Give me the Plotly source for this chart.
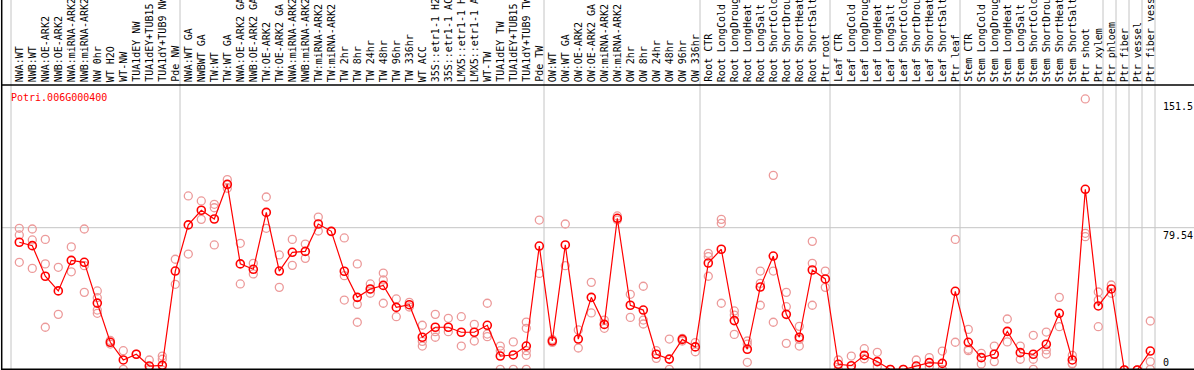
import plotly.graph_objects as go

gene_id = "Potri.006G000400"

categories = [
    "NWA:WT", "NWB:WT", "NWA:OE-ARK2", "NWB:OE-ARK2", "NWA:miRNA-ARK2", "NWB:miRNA-ARK2",
    "NW 0hr", "WT H2O", "WT-NW", "TUA1dEY NW", "TUA1dEY+TUB15 NW", "TUA1dY+TUB9 NW", "Pde NW",
    "NWA:WT GA", "NWBWT GA", "TW:WT", "TW:WT GA", "NWA:OE-ARK2 GA", "NWB:OE-ARK2 GA",
    "TW:OE-ARK2", "TW:OE-ARK2 GA", "NWA:miRNA-ARK2 GA", "NWB:miRNA-ARK2 GA", "TW:miRNA-ARK2",
    "TW:miRNA-ARK2 GA", "TW 2hr", "TW 8hr", "TW 24hr", "TW 48hr", "TW 96hr", "TW 336hr",
    "WT ACC", "35S::etr1-1 H2O", "35S::etr1-1 ACC", "LMX5::etr1-1 H2O", "LMX5::etr1-1 ACC",
    "WT-TW", "TUA1dEY TW", "TUA1dEY+TUB15 TW", "TUA1dY+TUB9 TW", "Pde TW",
    "OW:WT", "OW:WT GA", "OW:OE-ARK2", "OW:OE-ARK2 GA", "OW:miRNA-ARK2", "OW:miRNA-ARK2 GA",
    "OW 2hr", "OW 8hr", "OW 24hr", "OW 48hr", "OW 96hr", "OW 336hr",
    "Root CTR", "Root LongCold", "Root LongDrought", "Root LongHeat", "Root LongSalt",
    "Root ShortCold", "Root ShortDrought", "Root ShortHeat", "Root ShortSalt", "Ptr root",
    "Leaf CTR", "Leaf LongCold", "Leaf LongDrought", "Leaf LongHeat", "Leaf LongSalt",
    "Leaf ShortCold", "Leaf ShortDrought", "Leaf ShortHeat", "Leaf ShortSalt", "Ptr leaf",
    "Stem CTR", "Stem LongCold", "Stem LongDrought", "Stem LongHeat", "Stem LongSalt",
    "Stem ShortCold", "Stem ShortDrought", "Stem ShortHeat", "Stem ShortSalt", "Ptr shoot",
    "Ptr xylem", "Ptr phloem", "Ptr fiber", "Ptr vessel", "Ptr fiber vessel",
]

mean_values = [
    71.4, 69.5, 52.4, 44.2, 61.3, 60.2, 37.4, 15.5, 5.6, 8.8, 2.2, 2.6, 55.3,
    81.1, 89.3, 84.4, 103.8, 59.3, 56.3, 88.1, 55.3, 65.8, 66.3, 81.6, 77.5,
    55.2, 40.6, 45.3, 47.3, 35.0, 36.5, 18.3, 23.9, 23.9, 21.1, 21.1, 25.0,
    7.8, 8.4, 13.4, 69.3,
    16.2, 69.9, 17.3, 40.6, 25.5, 84.8, 36.2, 33.5, 8.8, 6.1, 17.1, 12.9,
    59.8, 67.5, 27.6, 11.6, 46.4, 63.7, 31.1, 18.3, 55.9, 50.9,
    3.2, 2.4, 8.2, 4.7, 0.3, 0.3, 2.2, 4.1, 3.7, 44.0,
    15.5, 6.9, 8.8, 21.6, 9.7, 8.8, 14.4, 31.7, 5.6, 101.0, 35.8,
    45.3, 0.0, 0.0, 10.6,
]

replicate_values = [
    [79.2, 75.5, 60.2], [78.8, 72.7, 56.8], [73.0, 59.3, 23.9], [57.4, 31.1],
    [68.8, 54.9], [78.8, 58.3, 43.4], [44.2, 40.4, 33.5, 31.7], [16.5, 14.5],
    [10.8, 0.4], [8.8], [5.6, 0.2], [7.8, 6.0, 0.0], [61.9, 47.9],
    [97.3, 64.8], [94.5, 84.2], [92.6, 90.7, 69.9], [106.4, 103.5, 101.6],
    [70.8, 48.1], [59.6, 53.7], [96.7, 79.2], [64.3, 46.2], [73.0, 58.5],
    [70.4, 62.4], [85.5, 77.7], [77.5], [73.8, 52.7, 39.1], [59.3, 36.7, 26.7],
    [48.1, 45.0, 42.9], [54.2, 50.3, 37.3], [39.7, 29.8], [37.8, 35.2],
    [25.0, 16.0, 13.4], [31.1, 21.4, 18.3], [28.9, 21.4], [29.8, 13.4],
    [25.5, 16.2], [37.3, 20.1, 18.6], [13.4, 10.8, 0.4], [15.7, 0.4],
    [26.8, 23.3, 10.8, 8.2, 0.4], [83.8, 54.0],
    [17.0, 15.4], [81.6, 58.3], [22.4, 12.3], [49.0, 31.9], [27.9, 23.3],
    [86.1, 83.8], [42.3, 29.4], [46.8, 27.9, 25.7], [10.8, 6.5], [17.3, 0.4],
    [17.7, 16.2], [15.3, 10.2],
    [65.2, 63.4, 52.4], [84.2, 82.0, 37.3], [33.0, 30.7, 19.9], [16.2, 14.5, 4.3],
    [55.3, 48.4, 36.2], [108.8, 55.3, 26.7], [43.4, 35.4, 14.9], [24.4, 17.1, 13.4],
    [71.9, 59.6, 36.2], [55.3, 46.2],
    [5.6, 0.4], [7.8, 0.4], [11.9, 6.3], [9.9, 1.9], [0.4], [0.4], [5.6, 0.4],
    [6.9, 1.9], [10.6, 0.4], [73.0, 15.5],
    [22.7, 11.6, 10.8], [9.3, 3.4], [13.4, 4.7], [28.5, 15.7], [13.4, 6.0],
    [19.4, 6.0, 0.4], [21.2, 11.2, 8.9], [40.6, 24.2], [8.2, 3.7, 3.4],
    [151.5, 76.4, 74.5], [43.6, 39.1, 24.2],
    [47.5, 42.9], [0.0], [0.0], [27.4, 4.7, 0.4],
]

# index (count of categories) after which a group separator is drawn
group_ends = [0, 13, 41, 53, 63, 73, 84, 85, 86, 87, 88]

scale_labels = ["151.5", "79.54", "0"]
scale_values = [151.5, 79.54, 0.0]
reference_value = 79.54

# ---------------- layout geometry ----------------
W, H = 1194, 370
ML, MR, MT, MB = 11, 39, 85, 0
PW = W - ML - MR
PH = H - MT - MB
n = len(categories)
x_lo = 1 - 8.3 / 13.0
x_hi = n + 4.7 / 13.0
y_lo, y_hi = 0.0, 159.3


def px_x(px):
    return (px - ML) / PW


def px_y(py):
    return (H - py) / PH


xs = list(range(1, n + 1))
rep_x, rep_y = [], []
for i, reps in enumerate(replicate_values):
    for v in reps:
        rep_x.append(i + 1)
        rep_y.append(v)

fig = go.Figure()
fig.add_trace(go.Scatter(
    x=rep_x, y=rep_y, mode="markers",
    marker=dict(symbol="circle-open", size=8, color="#ec9a9a", line=dict(width=1.3, color="#ec9a9a")),
    hoverinfo="skip", showlegend=False,
))
fig.add_trace(go.Scatter(
    x=xs, y=mean_values, mode="lines+markers",
    line=dict(color="#ff0000", width=1.2),
    marker=dict(symbol="circle-open", size=8, color="#ff0000", line=dict(width=1.6, color="#ff0000")),
    showlegend=False,
))

shapes = []
for k in group_ends:
    xp = px_x(ML + 13 * k)
    shapes.append(dict(type="line", xref="paper", yref="paper", x0=xp, x1=xp,
                       y0=px_y(369), y1=px_y(0), line=dict(color="#c4c4c4", width=1), layer="below"))
yr = (reference_value - y_lo) / (y_hi - y_lo)
shapes.append(dict(type="line", xref="paper", yref="paper", x0=px_x(1.5), x1=px_x(W),
                   y0=yr, y1=yr, line=dict(color="#c4c4c4", width=1), layer="below"))
shapes.append(dict(type="line", xref="paper", yref="paper", x0=px_x(1.5), x1=px_x(W),
                   y0=px_y(85), y1=px_y(85), line=dict(color="black", width=1.5)))
shapes.append(dict(type="line", xref="paper", yref="paper", x0=px_x(1.5), x1=px_x(W),
                   y0=px_y(369.2), y1=px_y(369.2), line=dict(color="black", width=1.5)))
shapes.append(dict(type="line", xref="paper", yref="paper", x0=px_x(1.7), x1=px_x(1.7),
                   y0=px_y(0), y1=px_y(370), line=dict(color="black", width=1.5)))

font = "DejaVu Sans Mono, monospace"
annotations = []
for i, lab in enumerate(categories):
    annotations.append(dict(
        x=i + 1, xref="x", y=px_y(84), yref="paper", text=lab, textangle=-90,
        xanchor="center", yanchor="bottom", showarrow=False,
        font=dict(family=font, size=10, color="black"),
    ))
annotations.append(dict(
    x=px_x(9), xref="paper", y=px_y(97), yref="paper", text=gene_id,
    xanchor="left", yanchor="middle", showarrow=False,
    font=dict(family=font, size=10, color="#ff0000"),
))
for lab, v in zip(scale_labels, scale_values):
    annotations.append(dict(
        x=px_x(1161), xref="paper", y=(v - y_lo) / (y_hi - y_lo), yref="paper", text=lab,
        xanchor="left", yanchor="top" if v > 0 else "bottom", showarrow=False,
        font=dict(family=font, size=10, color="black"),
    ))

fig.update_layout(
    width=W, height=H, autosize=False,
    margin=dict(l=ML, r=MR, t=MT, b=MB, pad=0),
    paper_bgcolor="white", plot_bgcolor="white",
    hovermode=False,
    xaxis=dict(range=[x_lo, x_hi], visible=False, showgrid=False, zeroline=False),
    yaxis=dict(range=[y_lo, y_hi], visible=False, showgrid=False, zeroline=False),
    shapes=shapes, annotations=annotations,
)

fig.write_html(
    "out.html",
    config={"displayModeBar": False, "staticPlot": True},
    post_script="document.body.style.margin='0';document.body.style.overflow='hidden';",
)
